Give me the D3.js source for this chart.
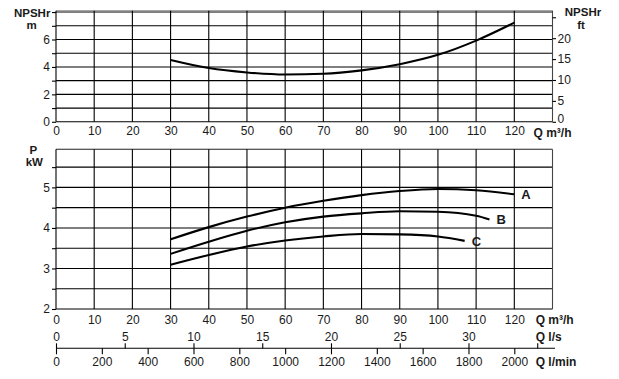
<!DOCTYPE html>
<html><head><meta charset="utf-8">
<script src="https://cdn.jsdelivr.net/npm/d3@7"></script>
<style>
body{margin:0;background:#fff;}
text{font-family:"Liberation Sans",Arial,sans-serif;fill:#1a1a1a;}
</style></head>
<body><svg id="c" width="619" height="379"></svg>
<script>
// ---- data ----
const qTicks = [0,10,20,30,40,50,60,70,80,90,100,110,120];
const npshQ = [30,40,50,60,70,80,90,100,110,120];
const npshM = [4.51,3.92,3.60,3.45,3.50,3.75,4.20,4.88,5.92,7.23];
const aQ = [30,40,50,60,70,80,90,100,110,120];
const aP = [3.72,4.02,4.28,4.50,4.67,4.81,4.91,4.96,4.93,4.83];
const bQ = [30,40,50,60,70,80,90,100,110,113.5];
const bP = [3.36,3.66,3.93,4.14,4.28,4.36,4.41,4.40,4.30,4.21];
const cQ = [30,40,50,60,70,80,90,100,107];
const cP = [3.09,3.33,3.54,3.69,3.79,3.85,3.84,3.79,3.68];
const curveNames = ["A","B","C"];
const npshMTicks = [0,2,4,6];
const npshFtTicks = [0,5,10,15,20];
const pTicks = [2,3,4,5];
const lsTicks = [0,5,10,15,20,25,30];
const lminTicks = [0,200,400,600,800,1000,1200,1400,1600,1800,2000];

const svg = d3.select("#c");
const x = d3.scaleLinear().domain([0,130]).range([56,552.5]);
const yT = d3.scaleLinear().domain([0,8.1]).range([121.8,10.7]);
const yFt = d3.scaleLinear().domain([0,8.1/0.3048]).range([121.8,10.7]);
const yB = d3.scaleLinear().domain([2,5.94]).range([309,149.3]);
const xLs = d3.scaleLinear().domain([0,130/3.6]).range([56,552.5]);
const xLmin = d3.scaleLinear().domain([0,130/0.06]).range([56,552.5]);

function grid(y, yLines, topVal, topColor){
  const g = svg.append("g");
  g.selectAll(".h").data(yLines).join("line")
    .attr("x1",x(0)).attr("x2",x(130)).attr("y1",d=>y(d)).attr("y2",d=>y(d))
    .attr("stroke","#000").attr("stroke-width",1.1);
  g.append("line").attr("x1",x(0)).attr("x2",x(130)).attr("y1",y(topVal)).attr("y2",y(topVal))
    .attr("stroke",topColor).attr("stroke-width",1.1);
  g.selectAll(".v").data(d3.range(0,131,10)).join("line")
    .attr("x1",d=>x(d)).attr("x2",d=>x(d)).attr("y1",y(topVal)).attr("y2",y.range()[0])
    .attr("stroke",d=>d===130?"#444":"#000").attr("stroke-width",1.1);
}
grid(yT, d3.range(0,9,1), 8.1, "#888");
grid(yB, d3.range(2,5.51,0.5), 5.94, "#222");

function styleAxis(g, size){
  g.select(".domain").remove();
  g.selectAll("line").attr("stroke","#000").attr("stroke-width",1.1);
  g.selectAll("text").attr("font-size",size).attr("fill","#1a1a1a");
}
// left axes
svg.append("g").attr("transform",`translate(${x(0)},0)`)
  .call(d3.axisLeft(yT).tickValues(d3.range(0,9,1)).tickSize(4).tickPadding(2)
    .tickFormat(d=>npshMTicks.includes(d)?d:""))
  .call(g=>styleAxis(g,12));
svg.append("g").attr("transform",`translate(${x(0)},0)`)
  .call(d3.axisLeft(yB).tickValues(d3.range(2,5.51,0.5)).tickSize(4).tickPadding(2)
    .tickFormat(d=>pTicks.includes(d)?d:""))
  .call(g=>styleAxis(g,12));
// right ft axis
svg.append("g").attr("transform",`translate(${x(130)},0)`)
  .call(d3.axisRight(yFt).tickValues([0,5,10,15,20,25]).tickSize(3.5).tickPadding(1.5)
    .tickFormat(d=>npshFtTicks.includes(d)?d:""))
  .call(g=>styleAxis(g,12))
  .call(g=>g.selectAll(".tick text").filter(d=>d===0).attr("dy","0.05em"));
// bottom Q axes
svg.append("g").attr("transform",`translate(0,${yT(0)})`)
  .call(d3.axisBottom(x).tickValues(qTicks).tickSize(0).tickPadding(5))
  .call(g=>styleAxis(g,12));
svg.append("g").attr("transform",`translate(0,${yB(2)})`)
  .call(d3.axisBottom(x).tickValues(qTicks).tickSize(0).tickPadding(6))
  .call(g=>styleAxis(g,12));
// l/s and l/min axes
const yAx = 348.3;
svg.append("line").attr("x1",56).attr("x2",555).attr("y1",yAx).attr("y2",yAx)
  .attr("stroke","#000").attr("stroke-width",1.1);
svg.append("g").attr("transform",`translate(0,${yAx})`)
  .call(d3.axisTop(xLs).tickValues([...lsTicks,35]).tickSize(5).tickPadding(2.3)
    .tickFormat(d=>lsTicks.includes(d)?d:""))
  .call(g=>styleAxis(g,12));
svg.append("g").attr("transform",`translate(0,${yAx})`)
  .call(d3.axisBottom(xLmin).tickValues(lminTicks).tickSize(6).tickPadding(3.2)
    .tickFormat(d3.format("d")))
  .call(g=>styleAxis(g,12));

// curves
const line = (yS)=>d3.line().x(d=>x(d[0])).y(d=>yS(d[1])).curve(d3.curveMonotoneX);
const drawCurve=(qs,vs,yS)=>svg.append("path").attr("d",line(yS)(qs.map((q,i)=>[q,vs[i]])))
  .attr("fill","none").attr("stroke","#000").attr("stroke-width",2.1).attr("stroke-linecap","butt");
drawCurve(npshQ,npshM,yT);
drawCurve(aQ,aP,yB);
drawCurve(bQ,bP,yB);
drawCurve(cQ,cP,yB);

// curve labels
const ends = [[aQ,aP],[bQ,bP],[cQ,cP]];
ends.forEach(([qs,vs],i)=>{
  const q=qs[qs.length-1], v=vs[vs.length-1];
  svg.append("text").attr("x",x(q)+7).attr("y",yB(v)+5).attr("font-size",13)
    .attr("font-weight","bold").text(curveNames[i]);
});

// titles
const T=(t,xx,yy,anchor,fs)=>svg.append("text").attr("x",xx).attr("y",yy)
  .attr("text-anchor",anchor).attr("font-size",fs||12).attr("font-weight","bold").text(t);
T("NPSHr",32.2,16.5,"middle",11.5); T("m",31.7,29,"middle",11.5);
T("NPSHr",583,16,"middle",11.5); T("ft",581,28.5,"middle",11.5);
T("P",33.3,153.5,"middle",11.5); T("kW",34.3,166,"middle",11.5);
T("Q m³/h",533.5,136.5,"start");
T("Q m³/h",535.7,323.5,"start");
T("Q l/s",535.7,341,"start");
T("Q l/min",535.7,366,"start");
</script></body></html>
